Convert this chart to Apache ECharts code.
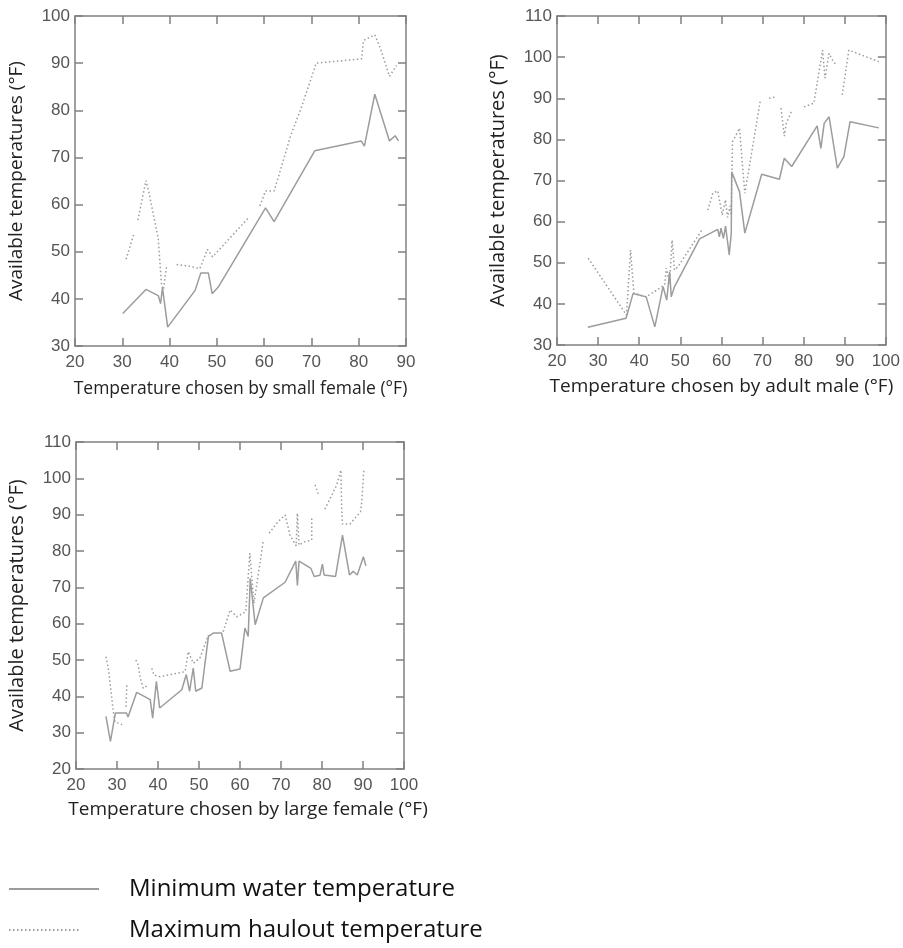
<!DOCTYPE html>
<html>
<head>
<meta charset="utf-8">
<script src="https://cdn.jsdelivr.net/npm/echarts@6/dist/echarts.min.js"></script>
<style>
  html, body { margin: 0; padding: 0; background: #fff; }
  #chart { width: 903px; height: 948px; }
</style>
</head>
<body>
<div id="chart"></div>
<script>
  // [chosen temperature, available temperature]; null = gap in the record
  var smallFemaleMin = [[30.1,36.9],[35.0,42.0],[37.6,40.7],[38.1,39.0],[38.5,42.4],[39.6,34.0],[45.4,41.8],[46.6,45.5],[48.2,45.5],[49.0,41.1],[50.3,42.5],[60.3,59.3],[62.1,56.4],[70.7,71.4],[80.5,73.5],[81.2,72.4],[83.4,83.4],[86.5,73.5],[87.7,74.6],[88.4,73.5]];
  var smallFemaleMax = [[30.8,48.4],[32.5,53.9],null,[33.3,56.7],[35.0,65.1],[35.6,62.7],[37.6,52.8],[38.3,42.9],[38.7,42.0],[39.4,47.2],null,[41.5,47.3],[44.3,46.9],[46.4,46.4],[48.0,50.5],[49.1,48.9],[56.6,57.1],null,[59.1,59.7],[60.3,62.9],[62.1,62.9],[63.0,65.8],[65.5,74.3],[67.9,80.7],[70.4,88.1],[71.0,90.0],[80.6,90.9],[81.0,94.8],[83.4,96.0],[84.5,93.4],[86.5,87.2],[88.0,89.5]];

  var adultMaleMin = [[27.5,34.3],[36.8,36.5],[38.5,42.5],[41.7,41.7],[43.8,34.4],[45.8,44.2],[46.7,40.9],[47.4,47.8],[47.8,41.7],[48.6,44.2],[54.7,55.8],[59.1,58.1],[59.5,56.3],[59.9,58.4],[60.5,55.9],[61.0,58.9],[61.5,55.1],[61.9,51.9],[62.4,57.2],[62.5,72.1],[64.4,67.3],[65.7,57.2],[69.8,71.5],[74.1,70.3],[75.3,75.4],[77.1,73.4],[83.3,83.3],[84.2,77.8],[85.0,83.9],[86.2,85.5],[88.2,73.0],[89.8,75.8],[91.3,84.3],[98.3,82.8]];
  var adultMaleMax = [[27.6,51.1],[36.9,37.3],[37.9,53.1],[38.7,42.6],[41.7,41.7],[46.2,44.6],[46.6,48.7],[47.4,45.0],[48.0,55.5],[48.6,48.2],[49.4,49.0],[55.3,58.0],null,[56.7,62.8],[57.9,66.9],[59.1,67.5],[60.2,61.6],[61.0,65.3],[61.5,61.0],[62.1,63.8],[62.4,61.5],[62.7,79.4],[64.4,82.7],[65.7,66.9],[69.5,89.6],null,[71.6,90.0],[73.5,90.4],null,[74.5,87.6],[75.3,80.8],[75.8,83.9],[77.0,86.7],null,[80.1,87.9],[82.5,88.8],[84.6,101.7],[85.2,94.9],[86.2,100.9],[87.2,98.9],[88.0,98.1],null,[89.4,90.8],[91.0,101.7],[98.3,98.9]];

  var largeFemaleMin = [[27.3,34.5],[28.4,27.6],[29.6,35.4],[32.3,35.4],[32.7,34.3],[34.8,41.1],[38.1,39.1],[38.7,34.0],[39.6,44.1],[40.4,36.8],[45.8,41.8],[46.9,46.0],[47.7,41.4],[48.6,47.8],[49.2,41.4],[50.7,42.3],[52.3,56.5],[53.5,57.4],[55.5,57.4],[57.6,46.9],[60.0,47.5],[61.2,58.8],[62.0,56.5],[62.5,72.5],[63.7,59.7],[65.7,67.1],[71.0,71.4],[73.6,77.2],[74.0,70.5],[74.4,77.2],[77.3,75.2],[78.1,73.0],[79.5,73.3],[80.1,76.4],[80.5,73.4],[83.3,73.0],[85.0,84.4],[86.7,73.4],[87.6,74.4],[88.6,73.4],[90.1,78.4],[90.7,75.9]];
  var largeFemaleMax = [[27.3,50.9],[27.9,47.7],[29.1,35.8],[29.5,33.0],[31.5,32.1],null,[32.2,37.1],[32.4,43.1],null,[34.6,50.0],[35.2,48.6],[35.6,45.4],[36.4,42.2],[37.6,43.1],null,[38.5,47.7],[39.0,45.9],[40.5,45.4],[46.6,46.8],[47.4,52.3],[48.6,49.1],[50.2,50.5],[52.3,56.9],null,[55.9,57.8],[57.6,63.8],[59.2,61.9],[61.4,63.3],[62.4,79.4],[63.4,65.6],[65.7,83.0],null,[67.1,84.9],[69.3,88.1],[71.0,89.9],[72.2,84.4],[73.7,81.4],[74.0,90.4],[74.4,81.6],[75.9,82.6],[77.5,83.0],[77.5,89.0],null,[78.3,98.2],[79.3,95.1],null,[80.7,91.5],[83.6,98.2],[84.6,102.3],[84.8,91.7],[85.0,87.4],[86.8,87.4],[89.4,90.8],[89.7,93.6],[90.2,102.3]];

  var minName = 'Minimum water temperature';
  var maxName = 'Maximum haulout temperature';
  var yTitle = 'Available temperatures (°F)';

  var panels = [
    {xTitle: 'Temperature chosen by small female (°F)', xMin: 20, xMax: 90, yMin: 30, yMax: 100,
     minData: smallFemaleMin, maxData: smallFemaleMax, left: 75, top: 16, width: 331, height: 330,
     xGap: 34, xFont: 17.5, yFont: 19, xShift: 0},
    {xTitle: 'Temperature chosen by adult male (°F)', xMin: 20, xMax: 100, yMin: 30, yMax: 110,
     minData: adultMaleMin, maxData: adultMaleMax, left: 557, top: 16, width: 330, height: 329,
     xGap: 32, xFont: 19, yFont: 20, xShift: 0},
    {xTitle: 'Temperature chosen by large female (°F)', xMin: 20, xMax: 100, yMin: 20, yMax: 110,
     minData: largeFemaleMin, maxData: largeFemaleMax, left: 76, top: 442, width: 328, height: 327,
     xGap: 31, xFont: 19, yFont: 20, xShift: 16}
  ];

  var axisColor = '#808080';
  var lineColor = '#9c9c9c';

  function fix(arr) {
    return arr.map(function (p) { return p === null ? ['-', '-'] : p; });
  }

  var grids = [], xAxes = [], yAxes = [], series = [];

  panels.forEach(function (p, i) {
    grids.push({left: p.left, top: p.top, width: p.width, height: p.height});
    var common = {
      type: 'value', gridIndex: i, interval: 10,
      axisLine: {show: true, lineStyle: {color: axisColor, width: 1.5}},
      axisTick: {show: true, inside: true, length: 8, lineStyle: {color: axisColor, width: 1.5}},
      splitLine: {show: false}
    };
    xAxes.push(Object.assign({}, common, {
      position: 'bottom', min: p.xMin, max: p.xMax,
      name: p.xTitle, nameLocation: 'middle', nameGap: p.xGap,
      nameTextStyle: {fontFamily: 'Open Sans', fontSize: p.xFont, color: '#222', padding: [0, 0, 0, p.xShift]},
      axisLabel: {margin: 8, fontFamily: 'Liberation Sans', fontSize: 17, color: '#555'}
    }));
    xAxes.push(Object.assign({}, common, {
      position: 'top', min: p.xMin, max: p.xMax, axisLabel: {show: false}
    }));
    yAxes.push(Object.assign({}, common, {
      position: 'left', min: p.yMin, max: p.yMax,
      name: yTitle, nameLocation: 'middle', nameGap: 49,
      nameTextStyle: {fontFamily: 'Open Sans', fontSize: p.yFont, color: '#222'},
      axisLabel: {margin: 5, fontFamily: 'Liberation Sans', fontSize: 17, color: '#555'}
    }));
    yAxes.push(Object.assign({}, common, {
      position: 'right', min: p.yMin, max: p.yMax, axisLabel: {show: false}
    }));

    series.push({
      name: minName, type: 'line', xAxisIndex: 2 * i, yAxisIndex: 2 * i,
      data: fix(p.minData), symbol: 'none', connectNulls: false, animation: false,
      color: lineColor, lineStyle: {color: lineColor, width: 1.5}
    });
    series.push({
      name: maxName, type: 'line', xAxisIndex: 2 * i, yAxisIndex: 2 * i,
      data: fix(p.maxData), symbol: 'none', connectNulls: false, animation: false,
      color: lineColor, lineStyle: {color: lineColor, width: 1.5, type: [1.5, 2.5]}
    });
  });

  var chart = echarts.init(document.getElementById('chart'));
  chart.setOption({
    animation: false,
    grid: grids,
    xAxis: xAxes,
    yAxis: yAxes,
    legend: [
      {data: [minName], left: 3, top: 872, itemWidth: 90, itemHeight: 24, selectedMode: false,
       itemStyle: {opacity: 0},
       textStyle: {fontFamily: 'Open Sans', fontSize: 24, color: '#111', padding: [0, 0, 0, 25]}},
      {data: [maxName], left: 3, top: 913, itemWidth: 70, itemHeight: 24, selectedMode: false,
       itemStyle: {opacity: 0},
       lineStyle: {type: [1.5, 2.5]},
       textStyle: {fontFamily: 'Open Sans', fontSize: 24, color: '#111', padding: [0, 0, 0, 45]}}
    ],
    series: series
  });
</script>
</body>
</html>
